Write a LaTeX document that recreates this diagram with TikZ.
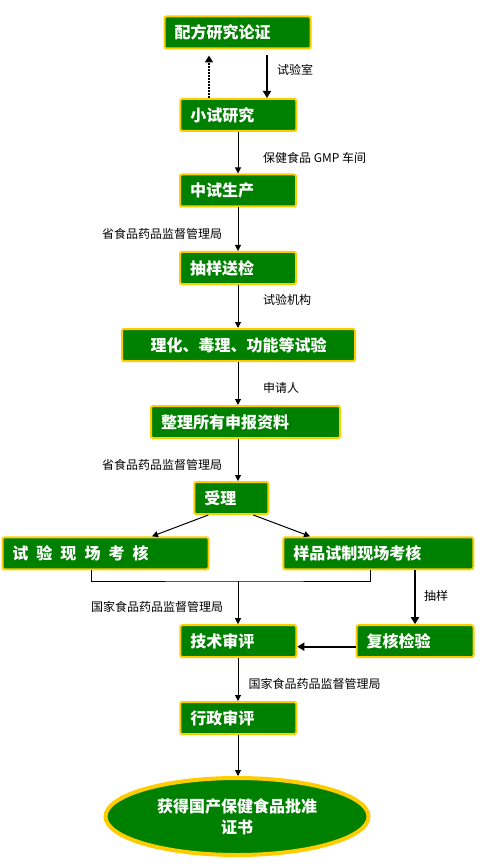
\documentclass[tikz,border=0pt]{standalone}
\usepackage{fontspec}
\setmainfont{Noto Sans CJK SC}
\usetikzlibrary{positioning,calc,shapes.geometric,arrows.meta}
\definecolor{stagegreen}{HTML}{008000}
\definecolor{stagegold}{HTML}{FFCC00}
\newcommand{\stagefont}{\fontsize{16}{21}\selectfont\bfseries}
\newcommand{\notefont}{\fontsize{12}{14}\selectfont}
\newcommand{\gap}{\hspace{8pt}}
\tikzstyle{stagebox}=[rectangle,rounded corners=2pt,draw=stagegold,fill=stagegreen,line width=2pt,text=white,font=\stagefont,align=left,inner xsep=10pt,inner ysep=0pt,minimum height=32pt]
\tikzstyle{note}=[font=\notefont,inner sep=0,anchor=west]
\tikzstyle{flow}=[-{Triangle[length=6pt,width=6pt]},line width=1pt]
\tikzstyle{heavyflow}=[-{Triangle[length=7pt,width=8pt]},line width=2pt]
\newcommand{\stagenode}[4]{\node[stagebox,text width=#3pt] (#1) at (#2) {#4};}

\begin{document}
\begin{tikzpicture}[x=1pt,y=-1pt]
\useasboundingbox (0,0) rectangle (488,866);

\stagenode{pf}{237.5,32.5}{126}{配方研究论证}
\stagenode{xs}{238.3,115}{96}{小试研究}
\stagenode{zs}{238,190.5}{96}{中试生产}
\stagenode{cy}{238,268}{96}{抽样送检}
\node[stagebox,align=center,text width=213pt] (lh) at (238.5,345) {理化、毒理、功能等试验};
\stagenode{zl}{245.5,422}{169}{整理所有申报资料}
\stagenode{sl}{231.3,498}{54}{受理}
\stagenode{sy}{105.5,553.3}{186}{试\gap{}验\gap{}现\gap{}场\gap{}考\gap{}核}
\stagenode{yp}{378.3,553.3}{170}{样品试制现场考核}
\stagenode{js}{238.3,641.2}{96}{技术审评}
\stagenode{fh}{415,641.2}{97}{复核检验}
\stagenode{xz}{238.3,718}{96}{行政审评}
\node[ellipse,draw=stagegold,fill=stagegreen,line width=4pt,text=white,font=\stagefont,align=center,inner sep=0,minimum width=263pt,minimum height=77pt] (pz) at (237,816.5) {获得国产保健食品批准\\证书};

\coordinate (spine) at (238,0);
\coordinate (backx) at (209,0);
\coordinate (labx) at (267,0);
\coordinate (merge) at (238,581);

\node[note] (nA) at (277,70) {试验室};
\node[note] (nB) at (263,158) {保健食品 GMP 车间};
\node[note] (nC) at (102,234) {省食品药品监督管理局};
\node[note] (nD) at (263,300) {试验机构};
\node[note] (nE) at (263,388) {申请人};
\node[note] (nF) at (102,465) {省食品药品监督管理局};
\node[note] (nG) at (91,607) {国家食品药品监督管理局};
\node[note] (nH) at (424,596) {抽样};
\node[note] (nI) at (248.5,683.5) {国家食品药品监督管理局};

\draw[heavyflow,densely dotted,shorten >=6pt] (xs.north -| backx) -- (pf.south -| backx);
\draw[heavyflow,shorten <=6pt] (pf.south -| labx) -- (xs.north -| labx);
\draw[flow] (xs.south -| spine) -- (zs.north -| spine);
\draw[flow] (zs.south -| spine) -- (cy.north -| spine);
\draw[flow] (cy.south -| spine) -- (lh.north -| spine);
\draw[flow] (lh.south -| spine) -- (zl.north -| spine);
\draw[flow] (zl.south -| spine) -- (sl.north -| spine);
\draw[flow] ($(sl.south)+(-23,0)$) -- ($(sy.north)+(46.5,0)$);
\draw[flow] ($(sl.south)+(22,0)$) -- ($(yp.north)+(-68.3,0)$);
\draw[line width=1pt] ($(sy.south)+(-14.2,0)$) |- (merge) -| ($(yp.south)+(-7.6,0)$);
\draw[flow] (merge) -- (js.north -| merge);
\draw[heavyflow] (yp.south -| fh) -- (fh.north);
\draw[heavyflow] ($(fh.west)+(0,5.5)$) -- ($(js.east)+(0,5.5)$);
\draw[flow] (js.south -| spine) -- (xz.north -| spine);
\draw[flow] (xz.south -| spine) -- (pz.north -| spine);
\end{tikzpicture}
\end{document}
